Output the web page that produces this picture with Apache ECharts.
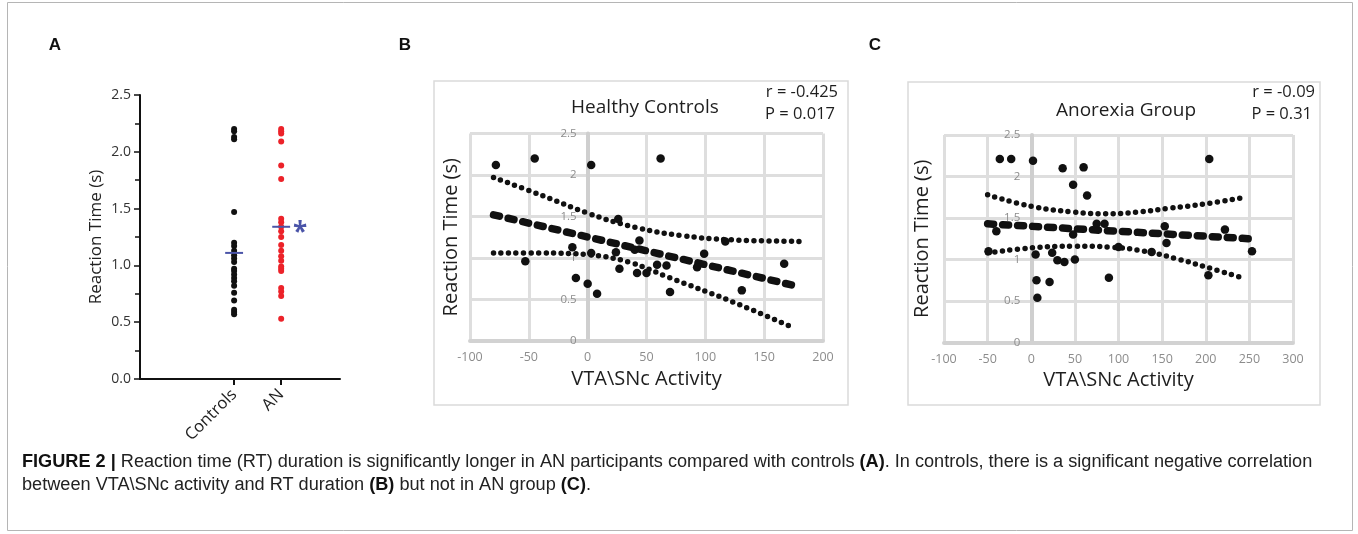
<!DOCTYPE html>
<html><head><meta charset="utf-8">
<script src="https://cdn.jsdelivr.net/npm/echarts@6/dist/echarts.min.js"></script>
<style>html,body{margin:0;padding:0;background:#fff}#chart{width:1358px;height:534px}</style>
</head><body><div id="chart"></div>
<script>
// ---------- DATA ----------
const A_categories = ['Controls', 'AN'];
const A_controls = [2.20, 2.18, 2.13, 2.11, 1.47, 1.20, 1.17, 1.13, 1.09, 1.06, 1.03, 0.97, 0.95, 0.92, 0.89, 0.86, 0.82, 0.76, 0.69, 0.61, 0.59, 0.57];
const A_an = [2.20, 2.18, 2.16, 2.09, 1.88, 1.76, 1.41, 1.38, 1.34, 1.30, 1.25, 1.18, 1.13, 1.08, 1.04, 0.99, 0.97, 0.95, 0.80, 0.77, 0.73, 0.53];
const A_centers = [1.11, 1.34];
const A_sigMark = '*';

const B_points = [[-78,2.12],[-45,2.20],[3,2.12],[62,2.20],[26,1.47],[-13,1.13],[-53,0.96],[3,1.06],[-10,0.76],[0,0.69],[8,0.57],[24,1.07],[27,0.87],[40,1.10],[42,0.82],[44,1.21],[50,0.82],[59,0.92],[67,0.91],[70,0.59],[93,0.89],[99,1.05],[117,1.20],[131,0.61],[167,0.93]];
const B_fit = [[-80,1.52],[175,0.67]];
const B_upper = [[-80,1.97],[-40,1.76],[0,1.54],[40,1.37],[80,1.27],[120,1.22],[180,1.20]];
const B_lower = [[-80,1.06],[-40,1.06],[0,1.04],[35,0.95],[70,0.76],[120,0.49],[175,0.16]];
const B_title = 'Healthy Controls';
const B_stats = ['r = -0.425', 'P = 0.017'];

const C_points = [[-36,2.21],[-23,2.21],[2,2.19],[36,2.10],[60,2.11],[48,1.90],[64,1.77],[-40,1.34],[204,2.21],[153,1.40],[222,1.36],[-49,1.10],[5,1.06],[24,1.08],[30,0.99],[38,0.97],[50,1.00],[6,0.75],[21,0.73],[7,0.54],[89,0.78],[48,1.30],[155,1.20],[203,0.81],[253,1.10],[100,1.15],[138,1.09],[75,1.43],[84,1.43]];
const C_fit = [[-50,1.43],[250,1.25]];
const C_upper = [[-50,1.78],[0,1.64],[50,1.57],[85,1.55],[120,1.57],[160,1.62],[200,1.67],[245,1.75]];
const C_lower = [[-50,1.08],[0,1.14],[50,1.16],[90,1.15],[130,1.10],[170,1.00],[200,0.91],[245,0.77]];
const C_title = 'Anorexia Group';
const C_stats = ['r = -0.09', 'P = 0.31'];

const yName = 'Reaction Time (s)';
const xName = 'VTA\\SNc Activity';
const captionLine1 = ['{b|FIGURE 2 |} Reaction time (RT) duration is significantly longer in AN participants compared with controls ', '{b|(A)}', '. In controls, there is a significant negative correlation'];
const captionLine2 = ['between VTA\\SNc activity and RT duration ', '{b|(B)}', ' but not in AN group ', '{b|(C)}', '.'];

// ---------- STYLE ----------
const SANS = "'Open Sans', 'Noto Sans', sans-serif";
const CAP = "'Liberation Sans', Arial, sans-serif";
const BLUE = '#4a54a8', RED = '#ec2229', INK = '#111111';
const MEAN_HALF = 0.19;

const GRID_B = { left: 470, top: 133.5, width: 353, height: 207.5 };
const GRID_C = { left: 944, top: 135, width: 349, height: 207.5 };
const XR_B = [-100, 200], XR_C = [-100, 300];

function dotted(data, xi, yi) {
  return { type: 'line', xAxisIndex: xi, yAxisIndex: yi, data: data, smooth: 0.4, symbol: 'none', silent: true,
    lineStyle: { color: INK, width: 5.5, type: [0, 7.5], cap: 'round', opacity: 1 }, z: 3 };
}
function dashed(data, xi, yi) {
  return { type: 'line', xAxisIndex: xi, yAxisIndex: yi, data: data, symbol: 'none', silent: true,
    lineStyle: { color: INK, width: 7.5, type: [6, 9], cap: 'round', opacity: 1 }, z: 3 };
}
function pts(data, xi, yi) {
  return { type: 'scatter', xAxisIndex: xi, yAxisIndex: yi, data: data, symbolSize: 8.5, itemStyle: { color: INK, opacity: 1 }, z: 4 };
}
function corrX(grid, range) {
  return { type: 'value', gridIndex: grid, min: range[0], max: range[1], interval: 50,
    axisLine: { show: true, onZero: false, lineStyle: { color: '#d2d2d2', width: 4 } },
    axisTick: { show: false },
    axisLabel: { color: '#8c8c8c', fontSize: 12.5, margin: 10, fontFamily: SANS },
    splitLine: { show: true, lineStyle: { color: '#dedede', width: 3 } },
    name: xName, nameLocation: 'middle', nameGap: 28,
    nameTextStyle: { color: '#1e1e1e', fontSize: 20, fontFamily: SANS } };
}
// y axis crossing at x = 0 (Excel style): offset derived from the x scale
function corrY(grid, g, range) {
  const zeroShift = (0 - range[0]) / (range[1] - range[0]) * g.width;
  return { type: 'value', gridIndex: grid, min: 0, max: 2.5, interval: 0.5, position: 'left', offset: -zeroShift,
    axisLine: { show: true, onZero: false, lineStyle: { color: '#cfcfcf', width: 4 } },
    axisTick: { show: false },
    axisLabel: { color: '#8c8c8c', fontSize: 11.5, margin: 11, fontFamily: SANS },
    splitLine: { show: true, lineStyle: { color: '#dedede', width: 3 } } };
}
function nameY(grid, gap) {
  return { type: 'value', gridIndex: grid, min: 0, max: 2.5, position: 'left',
    axisLine: { show: false, onZero: false }, axisTick: { show: false }, axisLabel: { show: false }, splitLine: { show: false },
    name: yName, nameLocation: 'middle', nameGap: gap,
    nameTextStyle: { color: '#1e1e1e', fontSize: 20, fontFamily: SANS } };
}

function fitSize(str, fam, target) {
  const c = document.createElement('canvas').getContext('2d');
  c.font = '100px ' + fam;
  return 100 * target / c.measureText(str).width;
}
const plain1 = captionLine1.join('').replace(/\{b\|([^}]*)\}/g, '$1');
const capSize = Math.min(18.5, fitSize(plain1, CAP, 1290));

const chart = echarts.init(document.getElementById('chart'), null, { renderer: 'canvas' });
const option = {
  animation: false,
  backgroundColor: '#fff',
  grid: [
    { left: 140, top: 95, width: 200, height: 284 },
    GRID_B,
    GRID_C
  ],
  xAxis: [
    { type: 'value', gridIndex: 0, min: -1, max: 3.25,
      axisLine: { show: true, onZero: false, lineStyle: { color: '#111', width: 2 } },
      axisTick: { show: true, customValues: [1, 2], length: 6, lineStyle: { color: '#111', width: 2 } },
      axisLabel: { show: true, customValues: [1, 2], formatter: v => A_categories[Math.round(v) - 1] || '',
        rotate: 45, fontSize: 16.5, color: '#222', margin: 13, fontFamily: SANS },
      splitLine: { show: false } },
    corrX(1, XR_B),
    corrX(2, XR_C)
  ],
  yAxis: [
    { type: 'value', gridIndex: 0, min: 0, max: 2.5, interval: 0.5,
      axisLine: { show: true, onZero: false, lineStyle: { color: '#111', width: 2 } },
      axisTick: { show: true, length: 6, lineStyle: { color: '#111', width: 1.5 } },
      minorTick: { show: true, splitNumber: 2, length: 5, lineStyle: { color: '#111', width: 1.5 } },
      axisLabel: { formatter: v => v.toFixed(1), fontSize: 14, color: '#333', margin: 9, fontFamily: SANS },
      splitLine: { show: false },
      name: yName, nameLocation: 'middle', nameGap: 35,
      nameTextStyle: { color: '#222', fontSize: 17, fontFamily: SANS } },
    corrY(1, GRID_B, XR_B), nameY(1, 9),
    corrY(2, GRID_C, XR_C), nameY(2, 12)
  ],
  series: [
    { type: 'scatter', xAxisIndex: 0, yAxisIndex: 0, data: A_controls.map(v => [1, v]), symbolSize: 6, itemStyle: { color: INK, opacity: 1 }, z: 3 },
    { type: 'scatter', xAxisIndex: 0, yAxisIndex: 0, data: A_an.map(v => [2, v]), symbolSize: 6, itemStyle: { color: RED, opacity: 1 }, z: 3 },
    { type: 'line', xAxisIndex: 0, yAxisIndex: 0, symbol: 'none', z: 5,
      data: [[1 - MEAN_HALF, A_centers[0]], [1 + MEAN_HALF, A_centers[0]]], lineStyle: { color: BLUE, width: 2 } },
    { type: 'line', xAxisIndex: 0, yAxisIndex: 0, symbol: 'none', z: 5,
      data: [[2 - MEAN_HALF, A_centers[1]], [2 + MEAN_HALF, A_centers[1]]], lineStyle: { color: BLUE, width: 2 },
      endLabel: { show: true, formatter: A_sigMark, color: BLUE, fontSize: 26, fontWeight: 'bold', fontFamily: SANS, distance: 3, offset: [0, 7] } },

    dotted(B_upper, 1, 1), dotted(B_lower, 1, 1), dashed(B_fit, 1, 1), pts(B_points, 1, 1),
    dotted(C_upper, 2, 3), dotted(C_lower, 2, 3), dashed(C_fit, 2, 3), pts(C_points, 2, 3)
  ],
  graphic: [
    { type: 'rect', shape: { x: 7.5, y: 2.5, width: 1345, height: 528 }, style: { fill: 'none', stroke: '#b5b5b5', lineWidth: 1 }, z: -10, silent: true },
    { type: 'rect', shape: { x: 434, y: 81, width: 414, height: 324 }, style: { fill: 'none', stroke: '#dadada', lineWidth: 1.5 }, z: -5, silent: true },
    { type: 'rect', shape: { x: 908, y: 82, width: 412, height: 323 }, style: { fill: 'none', stroke: '#dadada', lineWidth: 1.5 }, z: -5, silent: true },
    { type: 'text', x: 55, y: 45, style: { text: 'A', font: "bold 17px 'Liberation Sans', Arial, sans-serif", fill: '#111', textAlign: 'center', textVerticalAlign: 'middle' } },
    { type: 'text', x: 405, y: 45, style: { text: 'B', font: "bold 17px 'Liberation Sans', Arial, sans-serif", fill: '#111', textAlign: 'center', textVerticalAlign: 'middle' } },
    { type: 'text', x: 875, y: 45, style: { text: 'C', font: "bold 17px 'Liberation Sans', Arial, sans-serif", fill: '#111', textAlign: 'center', textVerticalAlign: 'middle' } },
    { type: 'text', x: 645, y: 108, style: { text: B_title, font: "19px " + SANS, fill: '#1e1e1e', textAlign: 'center', textVerticalAlign: 'middle' } },
    { type: 'text', x: 1126, y: 111, style: { text: C_title, font: "19px " + SANS, fill: '#1e1e1e', textAlign: 'center', textVerticalAlign: 'middle' } },
    { type: 'text', x: 838, y: 92, style: { text: B_stats[0], font: "16.5px " + SANS, fill: '#1e1e1e', textAlign: 'right', textVerticalAlign: 'middle' } },
    { type: 'text', x: 835, y: 114, style: { text: B_stats[1], font: "16.5px " + SANS, fill: '#1e1e1e', textAlign: 'right', textVerticalAlign: 'middle' } },
    { type: 'text', x: 1315, y: 92, style: { text: C_stats[0], font: "16.5px " + SANS, fill: '#1e1e1e', textAlign: 'right', textVerticalAlign: 'middle' } },
    { type: 'text', x: 1312, y: 114, style: { text: C_stats[1], font: "16.5px " + SANS, fill: '#1e1e1e', textAlign: 'right', textVerticalAlign: 'middle' } },
    { type: 'text', x: 22, y: 462, style: { text: captionLine1.join(''), fontFamily: CAP, fontSize: capSize, fill: '#222', textVerticalAlign: 'middle',
        rich: { b: { fontFamily: CAP, fontSize: capSize, fontWeight: 'bold', fill: '#111' } } } },
    { type: 'text', x: 22, y: 485, style: { text: captionLine2.join(''), fontFamily: CAP, fontSize: capSize, fill: '#222', textVerticalAlign: 'middle',
        rich: { b: { fontFamily: CAP, fontSize: capSize, fontWeight: 'bold', fill: '#111' } } } }
  ]
};
chart.setOption(option);
</script>
</body></html>
